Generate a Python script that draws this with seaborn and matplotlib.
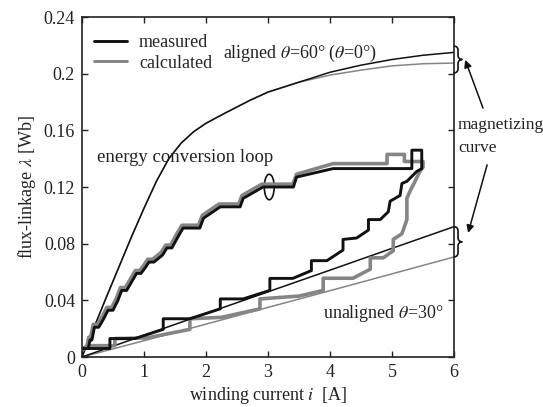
import numpy as np
import pandas as pd
import seaborn as sns
import matplotlib
matplotlib.use("Agg")
import matplotlib.pyplot as plt
from matplotlib.patches import Ellipse
from matplotlib.lines import Line2D

# ---------------- data ----------------
aligned_i = [0, 0.4, 0.8, 1.0, 1.2, 1.4, 1.6, 1.8, 2.0, 2.3, 2.7, 3.0, 3.5, 4.0,
             4.5, 5.0, 5.5, 6.0]
aligned_meas = [0, 0.043, 0.085, 0.105, 0.124, 0.140, 0.151, 0.159, 0.165, 0.172,
                0.181, 0.187, 0.194, 0.201, 0.206, 0.210, 0.213, 0.215]
aligned_calc = [0, 0.043, 0.085, 0.105, 0.124, 0.140, 0.151, 0.159, 0.165, 0.172,
                0.181, 0.187, 0.194, 0.199, 0.2025, 0.2055, 0.207, 0.2075]

unaligned_i = [0, 1, 2, 3, 4, 5, 6]
unaligned_meas = [0, 0.0153, 0.0307, 0.046, 0.0613, 0.0767, 0.092]
unaligned_calc = [0, 0.0115, 0.0232, 0.035, 0.0468, 0.0587, 0.0706]

loop_meas_i = [0, 0.45, 0.45, 0.85, 1.31, 1.31, 1.74, 2.23, 2.23, 2.60, 3.03, 3.03,
               3.40, 3.70, 3.70, 3.95, 4.21, 4.21, 4.43, 4.62, 4.62, 4.81, 4.94, 4.97,
               5.13, 5.16, 5.24, 5.40, 5.48, 5.48, 5.32, 5.32,
               4.05, 3.46, 3.41, 2.92, 2.60, 2.55, 2.23, 1.96, 1.90, 1.63, 1.55, 1.45,
               1.37, 1.30, 1.16, 1.08, 1.02, 0.95, 0.88, 0.80, 0.72, 0.64, 0.58, 0.50,
               0.42, 0.35, 0.27, 0.20, 0.16, 0.13, 0.10, 0]
loop_meas_lam = [0.006, 0.006, 0.013, 0.013, 0.0195, 0.027, 0.027, 0.034, 0.041, 0.041,
                 0.047, 0.0555, 0.0555, 0.061, 0.068, 0.068, 0.0755, 0.083, 0.084,
                 0.0896, 0.097, 0.097, 0.1025, 0.110, 0.114, 0.1225, 0.124, 0.131,
                 0.133, 0.146, 0.146, 0.133,
                 0.133, 0.127, 0.120, 0.120, 0.112, 0.106, 0.106, 0.098, 0.091, 0.091,
                 0.085, 0.077, 0.077, 0.072, 0.067, 0.067, 0.063, 0.059, 0.059, 0.053,
                 0.047, 0.047, 0.040, 0.033, 0.033, 0.027, 0.021, 0.021, 0.012, 0.012,
                 0.006, 0.006]

loop_calc_i = [0, 0.10, 0.53, 0.53, 1.05, 1.74, 1.74, 2.25, 2.87, 2.87, 3.50, 3.89, 3.89,
               4.37, 4.65, 4.65, 4.86, 5.02, 5.02, 5.16, 5.24, 5.24, 5.30, 5.36, 5.45,
               5.50, 5.50, 5.20, 5.20, 4.92, 4.92,
               4.05, 3.46, 3.40, 2.90, 2.58, 2.53, 2.21, 1.94, 1.88, 1.61, 1.53, 1.43,
               1.35, 1.28, 1.14, 1.06, 1.00, 0.93, 0.86, 0.78, 0.70, 0.62, 0.56, 0.48,
               0.40, 0.33, 0.25, 0.18, 0.14, 0.11, 0.08, 0]
loop_calc_lam = [0.005, 0.008, 0.008, 0.013, 0.0135, 0.0195, 0.027, 0.028, 0.034, 0.041,
                 0.043, 0.047, 0.0556, 0.0556, 0.062, 0.070, 0.070, 0.075, 0.083, 0.087,
                 0.097, 0.112, 0.118, 0.123, 0.131, 0.134, 0.138, 0.138, 0.143, 0.143,
                 0.1365,
                 0.1365, 0.129, 0.122, 0.122, 0.114, 0.108, 0.108, 0.100, 0.093, 0.093,
                 0.087, 0.079, 0.079, 0.074, 0.069, 0.069, 0.065, 0.061, 0.061, 0.055,
                 0.049, 0.049, 0.042, 0.035, 0.035, 0.029, 0.023, 0.023, 0.014, 0.014,
                 0.008, 0.005]

x_ticks = [0, 1, 2, 3, 4, 5, 6]
y_ticks = [0, 0.04, 0.08, 0.12, 0.16, 0.20, 0.24]
y_tick_labels = ["0", "0.04", "0.08", "0.12", "0.16", "0.2", "0.24"]

# ---------------- style ----------------
sns.set_theme(style="ticks")
plt.rcParams["font.family"] = ["Liberation Serif", "DejaVu Serif"]
plt.rcParams["mathtext.fontset"] = "stix"

BLACK = "#111111"
GRAY = "#858585"
TXT = "#222222"
FS = 13

fig = plt.figure(figsize=(5.43, 4.07), dpi=100)
ax = fig.add_axes([82 / 543, 1 - 357 / 407, 372 / 543, 340 / 407])

def line(x, y, **kw):
    sns.lineplot(x=x, y=y, ax=ax, sort=False, estimator=None, **kw)

# thin curves
line(aligned_i, aligned_calc, color=GRAY, lw=1.1)
line(aligned_i, aligned_meas, color=BLACK, lw=1.1)
line(unaligned_i, unaligned_calc, color=GRAY, lw=1.1)
line(unaligned_i, unaligned_meas, color=BLACK, lw=1.1)
# energy conversion loops
line(loop_calc_i, loop_calc_lam, color=GRAY, lw=2.6)
line(loop_meas_i, loop_meas_lam, color=BLACK, lw=2.1)

ax.set_xlim(0, 6)
ax.set_ylim(0, 0.24)
ax.set_xticks(x_ticks)
ax.set_xticklabels([str(t) for t in x_ticks])
ax.set_yticks(y_ticks)
ax.set_yticklabels(y_tick_labels)
ax.tick_params(direction="in", length=4.5, width=1.0, top=True, right=True,
               labelsize=FS, pad=5, colors=TXT, labelcolor=TXT)
for s in ax.spines.values():
    s.set_linewidth(1.2)
    s.set_color(TXT)

ax.set_xlabel(r"winding current $i$  [A]", fontsize=FS, labelpad=3, color=TXT)
ax.set_ylabel(r"flux-linkage $\lambda$ [Wb]", fontsize=FS, labelpad=4, color=TXT)

# legend
handles = [Line2D([], [], color=BLACK, lw=2.1), Line2D([], [], color=GRAY, lw=2.1)]
ax.legend(handles, ["measured", "calculated"], loc="upper left",
          bbox_to_anchor=(0.032, 0.95), frameon=False, fontsize=FS,
          handlelength=1.85, handletextpad=0.65, labelspacing=0.2,
          borderaxespad=0, borderpad=0)

# annotations
ax.text(0.379, 0.893, r"aligned $\theta$=60° ($\theta$=0°)", transform=ax.transAxes,
        fontsize=FS, va="center", ha="left", color=TXT)
ax.text(0.040, 0.588, "energy conversion loop", transform=ax.transAxes,
        fontsize=13.5, va="center", ha="left", color=TXT)
ax.text(0.972, 0.129, r"unaligned $\theta$=30°", transform=ax.transAxes,
        fontsize=FS, va="center", ha="right", color=TXT)
ax.text(1.011, 0.682, "magnetizing", transform=ax.transAxes, fontsize=12.5,
        va="center", ha="left", color=TXT, clip_on=False)
ax.text(1.011, 0.615, "curve", transform=ax.transAxes, fontsize=12.5,
        va="center", ha="left", color=TXT, clip_on=False)

ax.add_patch(Ellipse((3.02, 0.120), width=0.16, height=0.018, fill=False,
                     lw=1.2, ec=BLACK))

arrow = dict(arrowstyle="-|>", color=BLACK, lw=1.1, mutation_scale=11,
             shrinkA=0, shrinkB=0)
ax.annotate("", xy=(1.030, 0.874), xycoords="axes fraction",
            xytext=(1.078, 0.732), textcoords="axes fraction",
            arrowprops=arrow, annotation_clip=False)
ax.annotate("", xy=(1.038, 0.365), xycoords="axes fraction",
            xytext=(1.089, 0.565), textcoords="axes fraction",
            arrowprops=arrow, annotation_clip=False)

def brace(y_bot, y_top, x0=6.0, rx=0.065, ry=0.0028):
    mid = 0.5 * (y_bot + y_top)
    t1 = np.linspace(np.pi / 2, 0, 10)
    xs = list(x0 + rx * np.cos(t1)); ys = list(y_top - ry + ry * np.sin(t1))
    t2 = np.linspace(np.pi, 1.5 * np.pi, 10)
    xs += list(x0 + 2 * rx + rx * np.cos(t2)); ys += list(mid + ry + ry * np.sin(t2))
    t3 = np.linspace(0.5 * np.pi, np.pi, 10)
    xs += list(x0 + 2 * rx + rx * np.cos(t3)); ys += list(mid - ry + ry * np.sin(t3))
    t4 = np.linspace(0, -0.5 * np.pi, 10)
    xs += list(x0 + rx * np.cos(t4)); ys += list(y_bot + ry + ry * np.sin(t4))
    ax.plot(xs, ys, color=BLACK, lw=1.2, clip_on=False)

brace(0.2005, 0.2195)
brace(unaligned_calc[-1], unaligned_meas[-1])

fig.savefig("out.png", dpi=100)
